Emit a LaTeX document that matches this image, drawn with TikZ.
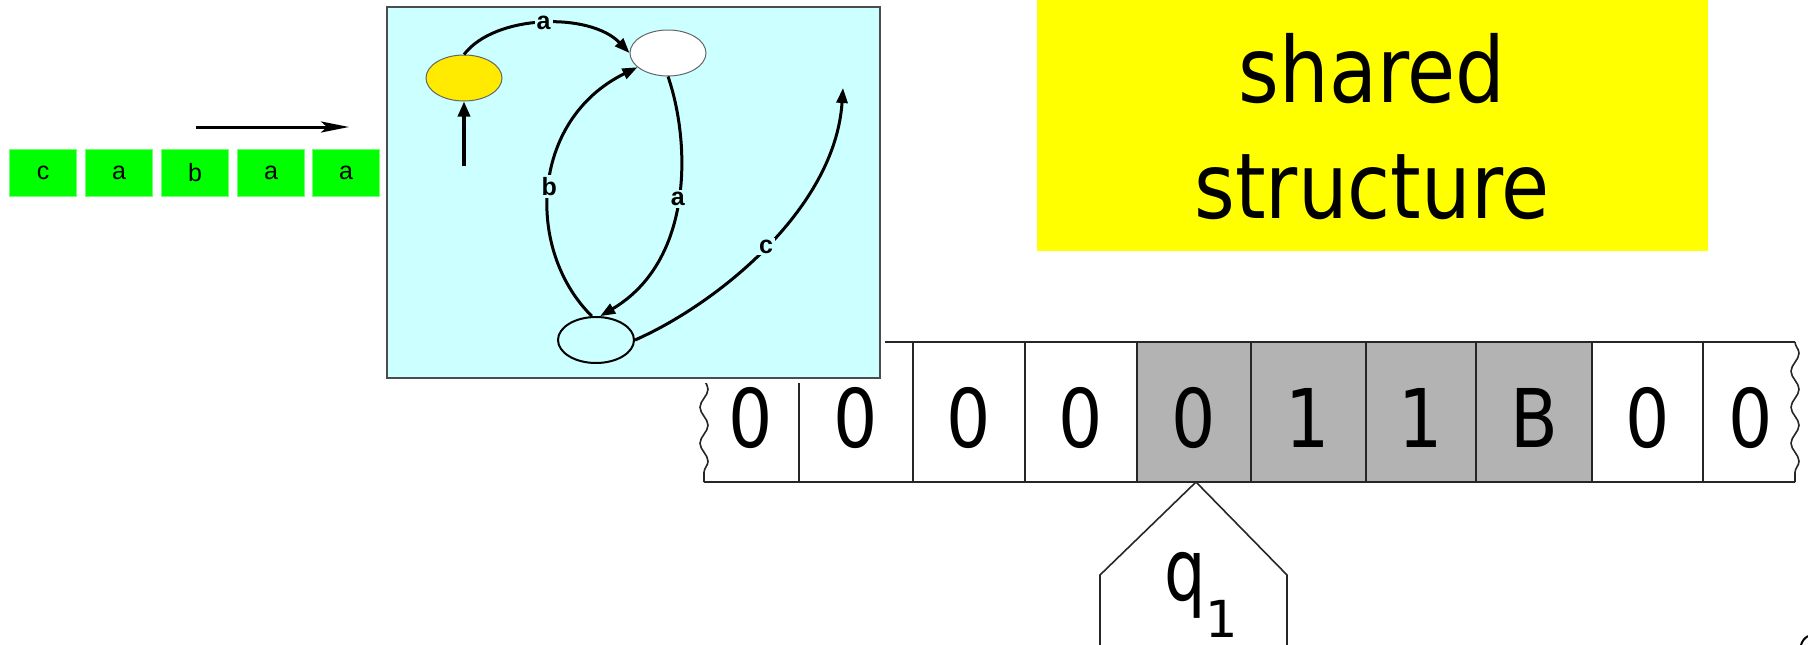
\documentclass[tikz,border=0pt]{standalone}
\usepackage{fontspec}
\usepackage{graphicx}
\setmainfont{DejaVu Sans}
\newfontfamily\arialf{Liberation Sans}
\usetikzlibrary{arrows.meta,decorations.pathmorphing,shapes.geometric}
\definecolor{cyanbg}{RGB}{204,255,255}
\definecolor{tapegray}{RGB}{179,179,179}
\definecolor{boxgreen}{RGB}{0,255,0}
\definecolor{boxyellow}{RGB}{255,255,0}
\definecolor{stateyellow}{RGB}{255,235,0}
\newcommand{\narrow}[2]{\scalebox{#1}[1]{#2}}
\begin{document}
\begin{tikzpicture}[x=1pt,y=-1pt,
  inbox/.style={draw=green!55!white, fill=boxgreen, minimum width=67pt, minimum height=47pt, inner sep=0pt, line width=1pt, font=\arialf\fontsize{25}{28}\selectfont},
  state/.style={ellipse, draw=black, minimum width=76pt, minimum height=46pt, inner sep=0pt, line width=1pt},
  edge/.style={line width=3pt, -{Triangle[length=15pt,width=11pt]}},
  elabel/.style={fill=cyanbg, inner sep=2pt, font=\arialf\bfseries\fontsize{25}{27}\selectfont},
  tapeline/.style={line width=2pt, draw=black!85},
  wavy/.style={line width=1.6pt, draw=black!85, decorate, decoration={snake, segment length=36pt, amplitude=4pt}},
  bigtext/.style={inner sep=0pt, anchor=base, font=\fontsize{91}{100}\selectfont},
  tapetext/.style={inner sep=0pt, anchor=base, font=\fontsize{81}{90}\selectfont}
]
\useasboundingbox (0,0) rectangle (1808,645);
\fill[white] (0,0) rectangle (1808,645);

% input word
\node[inbox] (i1) at (43,173) {c};
\node[inbox] (i2) at (119,173) {a};
\node[inbox] (i3) at (195,173) {b};
\node[inbox] (i4) at (271,173) {a};
\node[inbox] (i5) at (346,173) {a};
\coordinate (dirA) at (196,127);
\coordinate (dirB) at (349,127);
\draw[line width=3pt, -{Stealth[length=28pt,width=11pt,inset=6pt]}] (dirA) -- (dirB);

% yellow box
\fill[boxyellow] (1037,0) rectangle (1708,251);
\node[bigtext] (t1) at (1372,102) {\narrow{0.86}{shared}};
\node[bigtext] (t2) at (1372,218) {\narrow{0.86}{structure}};

% tape
\fill[tapegray] (1137,342) rectangle (1592,482);
\draw[tapeline] (704,342) -- (1795,342);
\draw[tapeline] (704,482) -- (1795,482);
\draw[wavy] (704,342) -- (704,482);
\draw[wavy] (1795,342) -- (1795,482);
\foreach \x in {799,913,1025,1137,1251,1366,1476,1592,1703} {
  \draw[line width=1.6pt, draw=black!85] (\x,342) -- (\x,482);
}
\node[tapetext] (c1) at (751,447) {\narrow{0.86}{0}};
\node[tapetext] (c2) at (856,447) {\narrow{0.86}{0}};
\node[tapetext] (c3) at (969,447) {\narrow{0.86}{0}};
\node[tapetext] (c4) at (1081,447) {\narrow{0.86}{0}};
\node[tapetext] (c5) at (1194,447) {\narrow{0.86}{0}};
\node[tapetext] (c6) at (1308,447) {\narrow{0.86}{1}};
\node[tapetext] (c7) at (1421,447) {\narrow{0.86}{1}};
\node[tapetext] (c8) at (1534,447) {\narrow{0.86}{B}};
\node[tapetext] (c9) at (1648,447) {\narrow{0.86}{0}};
\node[tapetext] (c10) at (1751,447) {\narrow{0.86}{0}};

% head
\coordinate (hL) at (1100,660);
\coordinate (hLs) at (1100,575);
\coordinate (hA) at (1196,482);
\coordinate (hRs) at (1287,575);
\coordinate (hR) at (1287,660);
\draw[line width=1.6pt, draw=black!85] (hL) -- (hLs) -- (hA) -- (hRs) -- (hR);
\node[inner sep=0pt, anchor=base, font=\fontsize{86}{90}\selectfont] (q) at (1185,600) {\narrow{0.76}{q}};
\node[inner sep=0pt, anchor=base, font=\fontsize{51}{60}\selectfont] (qs) at (1222,637) {1};

% corner fragment
\draw[line width=2pt] (1801,645) to[bend left=20] (1808,636);

% automaton panel
\fill[white] (382,2) rectangle (885,383);
\draw[fill=cyanbg, draw=black!70, line width=1.2pt] (387,7) rectangle (880,378);
\node[state, fill=stateyellow, draw=black!60] (s0) at (464,78) {};
\node[state, fill=white, draw=black!60] (s1) at (668,53) {};
\node[state, fill=cyanbg, line width=2pt] (s2) at (596,340) {};
\coordinate (init) at (464,166);
\coordinate (cend) at (843,88);
\draw[line width=3.4pt, -{Triangle[length=15pt,width=12pt]}] (init) -- (s0.south);
\draw[edge] (s0.north) .. controls (495,14) and (590,12) .. (s1.west) node[elabel, pos=0.5] {a};
\draw[edge] (s2.100) .. controls (525,250) and (530,120) .. (s1.205) node[elabel, pos=0.5] {b};
\draw[edge] (s1.south) .. controls (690,140) and (695,260) .. (s2.80) node[elabel, pos=0.5] {a};
\draw[edge] (s2.east) .. controls (715,305) and (835,210) .. (cend) node[elabel, pos=0.5] {c};
\end{tikzpicture}
\end{document}
